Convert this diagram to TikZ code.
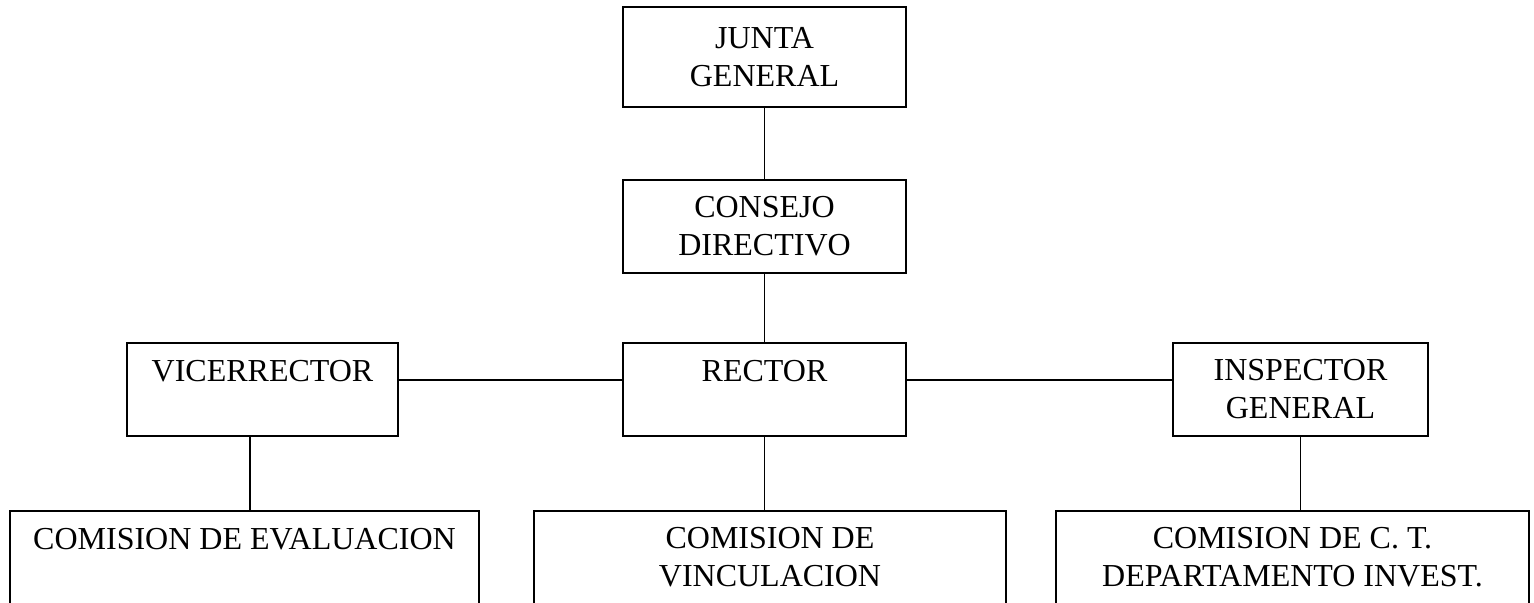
\documentclass[tikz,border=0pt]{standalone}
\usepackage{fontspec}
\setmainfont{Liberation Serif}
\begin{document}
\begin{tikzpicture}[x=0.5pt,y=-0.5pt,line width=0.9pt,
    cargo/.style={draw,align=center,inner sep=0pt,minimum height=46.5pt,
      font=\fontsize{16}{19}\selectfont,execute at begin node={\rule{0pt}{13.5pt}}}]
    \useasboundingbox (0,0) rectangle (1534,602);
    \clip (0,0) rectangle (1534,602);
    % upper levels
    \node[cargo,minimum width=141.5pt,minimum height=50pt] (junta) at (764.5,57) {JUNTA\\GENERAL};
    \node[cargo,minimum width=141.5pt] (consejo) at (764.5,226.5) {CONSEJO\\DIRECTIVO};
    \node[cargo,minimum width=141.5pt] (rector) at (764.5,389.5) {RECTOR\\~};
    \node[cargo,minimum width=135.5pt] (vice) at (262.5,389.5) {VICERRECTOR\\~};
    \node[cargo,minimum width=127.5pt] (insp) at (1300.5,389.5) {INSPECTOR\\GENERAL};
    % comisiones
    \node[cargo,minimum width=234.5pt] (eval) at (244.5,557.5) {COMISION DE EVALUACION\\~};
    \node[cargo,minimum width=236pt] (vinc) at (770,557.5) {COMISION DE\\VINCULACION};
    \node[cargo,minimum width=236.5pt] (ct) at (1292.5,557.5) {COMISION DE C. T.\\DEPARTAMENTO INVEST.};
    % lineas
    \draw (junta) -- (consejo);
    \draw (consejo) -- (rector);
    \draw ([yshift=-19pt]vice.north east) -- ([yshift=-19pt]rector.north west);
    \draw ([yshift=-19pt]rector.north east) -- ([yshift=-19pt]insp.north west);
    \draw ([xshift=-6.25pt]vice.south) -- ([xshift=-6.25pt]vice.south |- eval.north);
    \draw (rector.south) -- (rector.south |- vinc.north);
    \draw (insp.south) -- (insp.south |- ct.north);
\end{tikzpicture}
\end{document}
